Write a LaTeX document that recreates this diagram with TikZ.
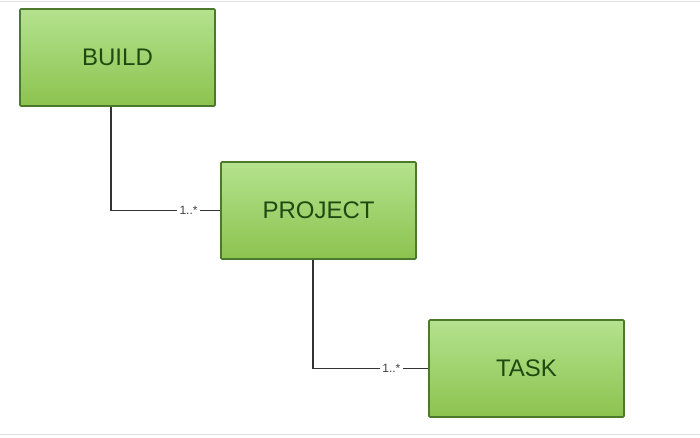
\documentclass[tikz,border=0pt]{standalone}
\usepackage{fontspec}
\setmainfont{Liberation Sans}
\definecolor{boxline}{HTML}{4C7A2C}
\definecolor{boxtop}{HTML}{B4E28E}
\definecolor{boxbot}{HTML}{8CC34F}
\definecolor{boxtext}{HTML}{1E4A12}
\begin{document}
\begin{tikzpicture}[x=1pt,y=-1pt,
    entity/.style={draw=boxline,line width=1.6pt,rounded corners=1pt,
        top color=boxtop,bottom color=boxbot,text=boxtext,
        minimum width=195pt,minimum height=97pt,inner sep=0pt,
        font=\fontsize{24}{27}\selectfont},
    mult/.style={fill=white,inner sep=2.5pt,text=black!75,
        font=\fontsize{12}{14}\selectfont},
    link/.style={line width=1.2pt,black!80}]
    \useasboundingbox (0,0) rectangle (700,437);
    \draw[black!12] (0,0.8)--(700,0.8);
    \draw[black!12] (0,434.5)--(700,434.5);

    \node[entity] (build) at (117.5,57.5) {BUILD};
    \node[entity] (project) at (318.5,210.5) {PROJECT};
    \node[entity] (task) at (526.5,368.5) {TASK};

    \draw[link] ([xshift=-6.5pt]build.south) |- node[mult,pos=0.855] {1..*} (project.west);
    \draw[link] ([xshift=-5.5pt]project.south) |- node[mult,pos=0.84] {1..*} (task.west);
\end{tikzpicture}
\end{document}
